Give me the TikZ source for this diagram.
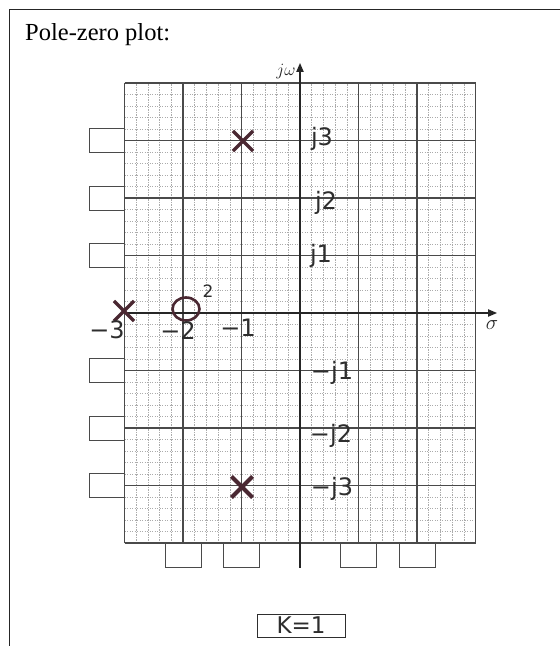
\documentclass[tikz,border=0pt]{standalone}
\usepackage{fontspec}
\setmainfont{Liberation Serif}
\newfontfamily\hand{DejaVu Sans}
\usetikzlibrary{arrows.meta,shapes.misc,shapes.geometric}
\definecolor{ink}{HTML}{4A2832}
\definecolor{pen}{HTML}{2E2E2E}
\definecolor{gridmajor}{HTML}{4A4A4A}
\definecolor{gridminor}{HTML}{ABABAB}
\begin{document}
\begin{tikzpicture}[x=1pt,y=-1pt,
  frameline/.style={draw=black!85,line width=1pt},
  minorgrid/.style={draw=gridminor,line width=0.5pt,dash pattern=on 1.2pt off 1.3pt},
  majorgrid/.style={draw=gridmajor,line width=1.1pt},
  axisline/.style={draw=black!85,line width=1.8pt,-{Triangle[length=9pt,width=7pt]}},
  lbox/.style={draw=gridmajor,line width=1pt,rectangle,minimum width=35pt,minimum height=24pt,inner sep=0pt},
  bbox/.style={draw=gridmajor,line width=1pt,rectangle,minimum width=36pt,minimum height=24pt,inner sep=0pt},
  polemark/.style={draw=ink,cross out,line width=3.2pt,minimum size=17pt,inner sep=0pt},
  zeromark/.style={draw=ink,ellipse,line width=2.6pt,minimum width=27pt,minimum height=23pt,inner sep=0pt},
  handlbl/.style={text=pen,font=\hand\fontsize{24}{24}\selectfont,inner sep=0pt},
  printlbl/.style={text=black!85,inner sep=0pt}]
\useasboundingbox (0,0) rectangle (560,646);
\fill[white] (0,0) rectangle (560,646);
% outer frame (left and top edges)
\draw[frameline] (9,646) -- (9,9) -- (560,9);
\node[anchor=base west,inner sep=0pt,font=\fontsize{24.5}{26}\selectfont] (title) at (25,40) {Pole-zero plot:};
\begin{scope}[shift={(300,313)},x=58.5pt,y=57.5pt]
  \draw[minorgrid] (-3,-4) grid[step=0.2] (3,4);
  \draw[majorgrid] (-3,-4) grid[step=1] (3,4);
  \coordinate (sl) at (-3,0);
  \coordinate (sr) at (3.37,0);
  \coordinate (wb) at (0,-4.43);
  \coordinate (wt) at (0,4.35);
  \draw[axisline] (sl) -- (sr);
  \draw[axisline] (wb) -- (wt);
  % boxes on the left
  \foreach \k/\v in {a/3,b/2,c/1,d/-1,e/-2,f/-3}
    \node[lbox,anchor=east] (lb\k) at (-3,\v) {};
  % boxes below
  \foreach \k/\u in {a/-2,b/-1,c/1,d/2}
    \node[bbox,anchor=north] (bb\k) at (\u,-4) {};
\end{scope}
% axis labels
\node[printlbl,font=\fontsize{18}{18}\selectfont] (jw) at (286,72) {$j\omega$};
\node[printlbl,font=\fontsize{20}{20}\selectfont] (sig) at (492,325) {$\sigma$};
% poles and zero
\node[polemark] (p1) at (243,141) {};
\node[polemark] (p2) at (124,311) {};
\node[polemark,line width=4.2pt] (p3) at (242,487) {};
\node[zeromark] (z1) at (186,309) {};
\node[handlbl,font=\hand\fontsize{17}{17}\selectfont] (zmult) at (208,291) {2};
% handwritten tick labels
\node[handlbl] (lj3) at (322,139) {j3};
\node[handlbl] (lj2) at (326,203) {j2};
\node[handlbl] (lj1) at (321,256) {j1};
\node[handlbl] (lmj1) at (332,373) {−j1};
\node[handlbl] (lmj2) at (331,436) {−j2};
\node[handlbl] (lmj3) at (332,489) {−j3};
\node[handlbl] (lm3) at (107,330) {−3};
\node[handlbl] (lm2) at (178,331) {−2};
\node[handlbl] (lm1) at (238,328) {−1};
% gain box
\node[draw=pen,line width=1pt,rectangle,minimum width=88pt,minimum height=23pt,inner sep=0pt,text=pen,font=\hand\fontsize{23}{23}\selectfont] (gain) at (301,625.5) {K=1};
\end{tikzpicture}
\end{document}
